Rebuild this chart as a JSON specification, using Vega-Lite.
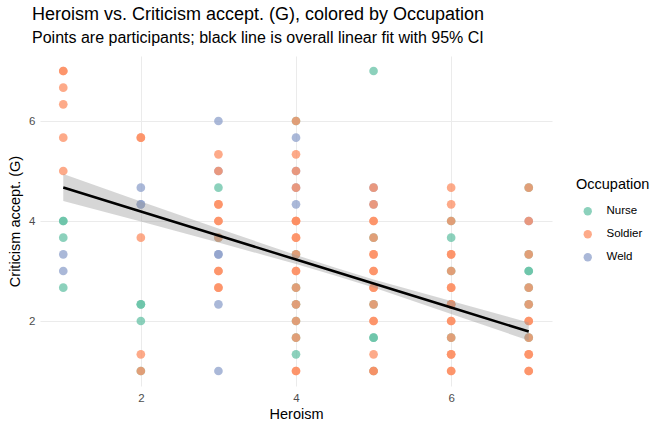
{
"$schema": "https://vega.github.io/schema/vega-lite/v6.json",
"width": 512, "height": 330,
"autosize": {"type": "none"},
"padding": {"left": 40, "top": 56, "right": 120, "bottom": 46},
"background": "white",
"config": {"font": "Liberation Sans", "view": {"stroke": null}},
"title": {"text": "Heroism vs. Criticism accept. (G), colored by Occupation", "subtitle": "Points are participants; black line is overall linear fit with 95% CI", "anchor": "start", "frame": "group", "dx": -8, "offset": 10, "fontSize": 18, "subtitleFontSize": 16, "fontWeight": "normal", "color": "black", "subtitleColor": "black", "subtitlePadding": 6, "font": "Liberation Sans", "subtitleFont": "Liberation Sans"},
"datasets": {
"pts": [
{"h":1,"c":7,"o":"Soldier"},{"h":1,"c":7,"o":"Soldier"},{"h":1,"c":6.667,"o":"Soldier"},{"h":1,"c":6.333,"o":"Soldier"},{"h":1,"c":5.667,"o":"Soldier"},{"h":1,"c":5,"o":"Soldier"},{"h":1,"c":4,"o":"Nurse"},{"h":1,"c":4,"o":"Nurse"},{"h":1,"c":3.667,"o":"Nurse"},{"h":1,"c":3.333,"o":"Weld"},{"h":1,"c":3,"o":"Weld"},{"h":1,"c":2.667,"o":"Nurse"},
{"h":2,"c":5.667,"o":"Soldier"},{"h":2,"c":5.667,"o":"Soldier"},{"h":2,"c":4.667,"o":"Weld"},{"h":2,"c":4.333,"o":"Weld"},{"h":2,"c":4.333,"o":"Weld"},{"h":2,"c":3.667,"o":"Soldier"},{"h":2,"c":2.333,"o":"Nurse"},{"h":2,"c":2.333,"o":"Nurse"},{"h":2,"c":2,"o":"Nurse"},{"h":2,"c":1.333,"o":"Soldier"},{"h":2,"c":1,"o":"Nurse"},{"h":2,"c":1,"o":"Soldier"},
{"h":3,"c":6,"o":"Weld"},{"h":3,"c":5.333,"o":"Soldier"},{"h":3,"c":5,"o":"Weld"},{"h":3,"c":5,"o":"Soldier"},{"h":3,"c":4.667,"o":"Nurse"},{"h":3,"c":4.333,"o":"Soldier"},{"h":3,"c":4.333,"o":"Soldier"},{"h":3,"c":4,"o":"Soldier"},{"h":3,"c":4,"o":"Soldier"},{"h":3,"c":3.667,"o":"Nurse"},{"h":3,"c":3.667,"o":"Soldier"},{"h":3,"c":3.333,"o":"Weld"},{"h":3,"c":3.333,"o":"Weld"},{"h":3,"c":3,"o":"Soldier"},{"h":3,"c":3,"o":"Soldier"},{"h":3,"c":2.667,"o":"Soldier"},{"h":3,"c":2.667,"o":"Soldier"},{"h":3,"c":2.333,"o":"Weld"},{"h":3,"c":1,"o":"Weld"},
{"h":4,"c":6,"o":"Nurse"},{"h":4,"c":6,"o":"Soldier"},{"h":4,"c":5.667,"o":"Weld"},{"h":4,"c":5.333,"o":"Soldier"},{"h":4,"c":5,"o":"Weld"},{"h":4,"c":5,"o":"Soldier"},{"h":4,"c":4.667,"o":"Weld"},{"h":4,"c":4.667,"o":"Soldier"},{"h":4,"c":4.333,"o":"Weld"},{"h":4,"c":4,"o":"Soldier"},{"h":4,"c":4,"o":"Soldier"},{"h":4,"c":4,"o":"Soldier"},{"h":4,"c":3.667,"o":"Soldier"},{"h":4,"c":3.667,"o":"Soldier"},{"h":4,"c":3.333,"o":"Nurse"},{"h":4,"c":3.333,"o":"Soldier"},{"h":4,"c":3,"o":"Soldier"},{"h":4,"c":3,"o":"Soldier"},{"h":4,"c":2.667,"o":"Nurse"},{"h":4,"c":2.667,"o":"Soldier"},{"h":4,"c":2.333,"o":"Nurse"},{"h":4,"c":2.333,"o":"Soldier"},{"h":4,"c":2,"o":"Nurse"},{"h":4,"c":2,"o":"Soldier"},{"h":4,"c":1.667,"o":"Nurse"},{"h":4,"c":1.667,"o":"Soldier"},{"h":4,"c":1.333,"o":"Nurse"},{"h":4,"c":1,"o":"Soldier"},{"h":4,"c":1,"o":"Soldier"},
{"h":5,"c":7,"o":"Nurse"},{"h":5,"c":4.667,"o":"Weld"},{"h":5,"c":4.667,"o":"Soldier"},{"h":5,"c":4.333,"o":"Weld"},{"h":5,"c":4.333,"o":"Soldier"},{"h":5,"c":4,"o":"Soldier"},{"h":5,"c":4,"o":"Soldier"},{"h":5,"c":3.667,"o":"Nurse"},{"h":5,"c":3.667,"o":"Soldier"},{"h":5,"c":3.333,"o":"Soldier"},{"h":5,"c":3.333,"o":"Soldier"},{"h":5,"c":3,"o":"Soldier"},{"h":5,"c":3,"o":"Soldier"},{"h":5,"c":2.667,"o":"Soldier"},{"h":5,"c":2.667,"o":"Soldier"},{"h":5,"c":2.333,"o":"Nurse"},{"h":5,"c":2.333,"o":"Soldier"},{"h":5,"c":2,"o":"Soldier"},{"h":5,"c":2,"o":"Soldier"},{"h":5,"c":1.667,"o":"Nurse"},{"h":5,"c":1.667,"o":"Nurse"},{"h":5,"c":1.333,"o":"Soldier"},{"h":5,"c":1,"o":"Nurse"},{"h":5,"c":1,"o":"Soldier"},{"h":5,"c":1,"o":"Soldier"},
{"h":6,"c":4.667,"o":"Soldier"},{"h":6,"c":4.333,"o":"Soldier"},{"h":6,"c":4,"o":"Nurse"},{"h":6,"c":4,"o":"Soldier"},{"h":6,"c":3.667,"o":"Nurse"},{"h":6,"c":3.333,"o":"Soldier"},{"h":6,"c":3.333,"o":"Soldier"},{"h":6,"c":3,"o":"Nurse"},{"h":6,"c":3,"o":"Soldier"},{"h":6,"c":2.667,"o":"Soldier"},{"h":6,"c":2.667,"o":"Soldier"},{"h":6,"c":2.333,"o":"Nurse"},{"h":6,"c":2.333,"o":"Soldier"},{"h":6,"c":2.333,"o":"Soldier"},{"h":6,"c":2,"o":"Soldier"},{"h":6,"c":2,"o":"Soldier"},{"h":6,"c":1.667,"o":"Nurse"},{"h":6,"c":1.667,"o":"Soldier"},{"h":6,"c":1.333,"o":"Soldier"},{"h":6,"c":1.333,"o":"Soldier"},{"h":6,"c":1,"o":"Soldier"},{"h":6,"c":1,"o":"Soldier"},
{"h":7,"c":4.667,"o":"Nurse"},{"h":7,"c":4.667,"o":"Soldier"},{"h":7,"c":4,"o":"Weld"},{"h":7,"c":4,"o":"Soldier"},{"h":7,"c":3.333,"o":"Nurse"},{"h":7,"c":3.333,"o":"Soldier"},{"h":7,"c":3,"o":"Nurse"},{"h":7,"c":3,"o":"Nurse"},{"h":7,"c":2.667,"o":"Nurse"},{"h":7,"c":2.667,"o":"Soldier"},{"h":7,"c":2.333,"o":"Nurse"},{"h":7,"c":2.333,"o":"Soldier"},{"h":7,"c":2,"o":"Soldier"},{"h":7,"c":2,"o":"Soldier"},{"h":7,"c":1.667,"o":"Nurse"},{"h":7,"c":1.667,"o":"Soldier"},{"h":7,"c":1.333,"o":"Soldier"},{"h":7,"c":1.333,"o":"Soldier"},{"h":7,"c":1,"o":"Soldier"},{"h":7,"c":1,"o":"Soldier"}
],
"fit": [
{"h":1,"fit":4.67,"lo":4.40,"hi":4.94},
{"h":2,"fit":4.19,"lo":3.99,"hi":4.39},
{"h":3,"fit":3.71,"lo":3.57,"hi":3.85},
{"h":4,"fit":3.23,"lo":3.14,"hi":3.32},
{"h":4.5,"fit":2.99,"lo":2.91,"hi":3.07},
{"h":5,"fit":2.75,"lo":2.67,"hi":2.83},
{"h":6,"fit":2.27,"lo":2.14,"hi":2.40},
{"h":7,"fit":1.79,"lo":1.61,"hi":1.97}
]
},
"layer": [
{"data": {"name": "pts"},
 "mark": {"type": "point", "filled": true, "opacity": 0.75, "size": 75, "shape": "circle"},
 "encoding": {
  "x": {"field": "h", "type": "quantitative", "scale": {"domain": [0.7, 7.3], "nice": false, "zero": false},
        "axis": {"values": [2, 4, 6], "format": "d", "title": "Heroism", "grid": true, "gridColor": "#ebebeb", "domain": false, "ticks": false, "labelColor": "#4d4d4d", "labelFontSize": 11.5, "labelPadding": 6, "titleFontSize": 14.5, "titleFontWeight": "normal", "titleColor": "black", "titlePadding": 4}},
  "y": {"field": "c", "type": "quantitative", "scale": {"domain": [0.7, 7.3], "nice": false, "zero": false},
        "axis": {"values": [2, 4, 6], "format": "d", "title": "Criticism accept. (G)", "grid": true, "gridColor": "#ebebeb", "domain": false, "ticks": false, "labelColor": "#4d4d4d", "labelFontSize": 11.5, "labelPadding": 5, "titleFontSize": 14.5, "titleFontWeight": "normal", "titleColor": "black", "titlePadding": 6}},
  "color": {"field": "o", "type": "nominal", "scale": {"domain": ["Nurse", "Soldier", "Weld"], "range": ["#66c2a5", "#fc8d62", "#8da0cb"]},
            "legend": {"title": "Occupation", "orient": "none", "legendX": 536, "legendY": 122, "titleFontSize": 14.5, "titleFontWeight": "normal", "titleColor": "black", "labelFontSize": 11.5, "labelColor": "black", "symbolSize": 70, "symbolOpacity": 0.75, "symbolOffset": 6, "rowPadding": 10, "labelOffset": 13, "titlePadding": 13}}
 }},
{"data": {"name": "fit"},
 "mark": {"type": "area", "color": "#999999", "opacity": 0.4},
 "encoding": {"x": {"field": "h", "type": "quantitative"}, "y": {"field": "lo", "type": "quantitative"}, "y2": {"field": "hi"}}},
{"data": {"name": "fit"},
 "mark": {"type": "line", "color": "black", "strokeWidth": 2.5},
 "encoding": {"x": {"field": "h", "type": "quantitative"}, "y": {"field": "fit", "type": "quantitative"}}}
]
}
